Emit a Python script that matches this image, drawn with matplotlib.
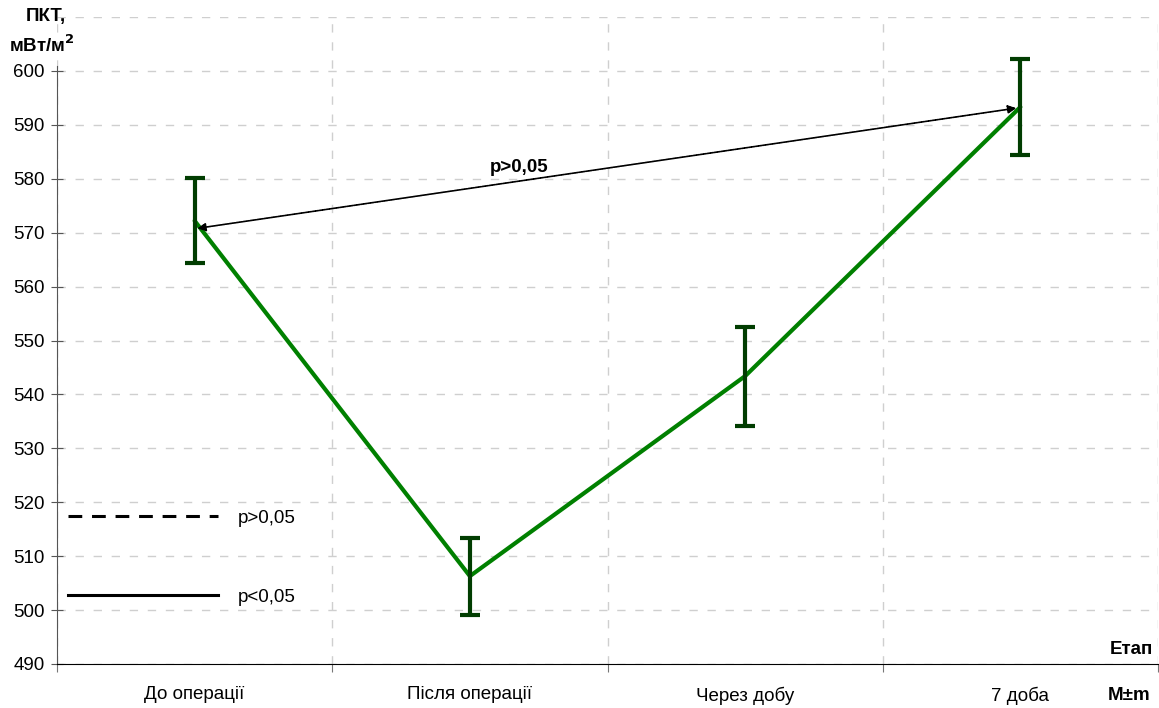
import numpy as np
import matplotlib
matplotlib.use('Agg')
import matplotlib.pyplot as plt
from matplotlib.lines import Line2D

plt.rcParams['font.family'] = ['Liberation Sans', 'DejaVu Sans']
plt.rcParams['font.size'] = 13.5

# данные: средние и границы M±m по этапам
stages = ['До операції', 'Після операції', 'Через добу', '7 доба']
mean = [572.2, 506.3, 543.4, 593.3]
upper = [580.2, 513.3, 552.5, 602.2]
lower = [564.4, 499.0, 534.2, 584.4]

# стрелка сравнения "до" и "7 доба"
cmp_from = (2.985, 593.1)
cmp_to = (0.01, 570.8)
cmp_text = 'p>0,05'

legend_labels = ['p>0,05', 'p<0,05']

x = np.arange(len(stages))
m = np.array(mean)
yerr = [m - np.array(lower), np.array(upper) - m]

fig = plt.figure(figsize=(11.59, 7.08), dpi=100)
ax = fig.add_axes([57 / 1159, 44 / 708, 1101 / 1159, 647 / 708])

ax.plot(x, m, color='#008000', lw=3, zorder=3, solid_capstyle='round')
ax.errorbar(x, m, yerr=yerr, fmt='none', ecolor='#013d01', elinewidth=3,
            capsize=7.5, capthick=3, zorder=4)

ax.set_xlim(-0.5, len(stages) - 0.5)
ax.set_ylim(490, 610)

# сетка: вертикаль по границам категорий, горизонталь каждые 10
grid_kw = dict(color='#cfcfcf', lw=1.0, linestyle=(0, (6, 7)))
ax.set_xticks(np.arange(len(stages) + 1) - 0.5)
ax.set_xticklabels([])
ax.set_xticks(x, minor=True)
ax.set_xticklabels(stages, minor=True)
ax.tick_params(axis='x', which='major', length=6, color='#777777', direction='out')
ax.tick_params(axis='x', which='minor', length=0, pad=16)
ax.xaxis.grid(True, which='major', **grid_kw)

ax.set_yticks(np.arange(490, 601, 10))
ax.set_yticks([610], minor=True)
ax.tick_params(axis='y', which='major', length=8, direction='inout', pad=5,
               color='#555555')
ax.tick_params(axis='y', which='minor', length=0)
ax.yaxis.grid(True, which='both', **grid_kw)
ax.set_axisbelow(True)

for s in ['top', 'right']:
    ax.spines[s].set_visible(False)
ax.spines['left'].set_bounds(490, 601)
ax.spines['left'].set_color('#555555')
ax.spines['bottom'].set_color('black')

ax.annotate('', xy=cmp_to, xytext=cmp_from,
            arrowprops=dict(arrowstyle='<|-|>', color='black', lw=1.2,
                            linestyle=(0, (1.5, 0.6)), mutation_scale=12,
                            shrinkA=0, shrinkB=0), zorder=5)
ax.text(1.18, 582, cmp_text, ha='center', va='center', fontweight='bold',
        fontsize=13.5)

handles = [Line2D([], [], color='black', lw=2.2, linestyle=(0, (4.5, 3.2))),
           Line2D([], [], color='black', lw=2.2)]
ax.legend(handles, legend_labels, loc='upper left',
          bbox_to_anchor=(0.010, 0.2388), frameon=False, handlelength=8,
          handletextpad=1.07, labelspacing=3.3, borderpad=0, borderaxespad=0,
          fontsize=13.5)

fig.text(46 / 1159, 1 - 17 / 708, 'ПКТ,', ha='center', va='center',
         fontweight='bold', fontsize=13.5)
fig.text(42 / 1159, 1 - 45 / 708, 'мВт/м$^\\mathbf{2}$', ha='center',
         va='center', fontweight='bold', fontsize=13.5)
fig.text(1153 / 1159, 1 - 650 / 708, 'Етап', ha='right', va='center',
         fontweight='bold', fontsize=13.5)
fig.text(1150 / 1159, 1 - 695 / 708, 'М±m', ha='right', va='center',
         fontweight='bold', fontsize=13.5)

fig.savefig('out.png', dpi=100)
